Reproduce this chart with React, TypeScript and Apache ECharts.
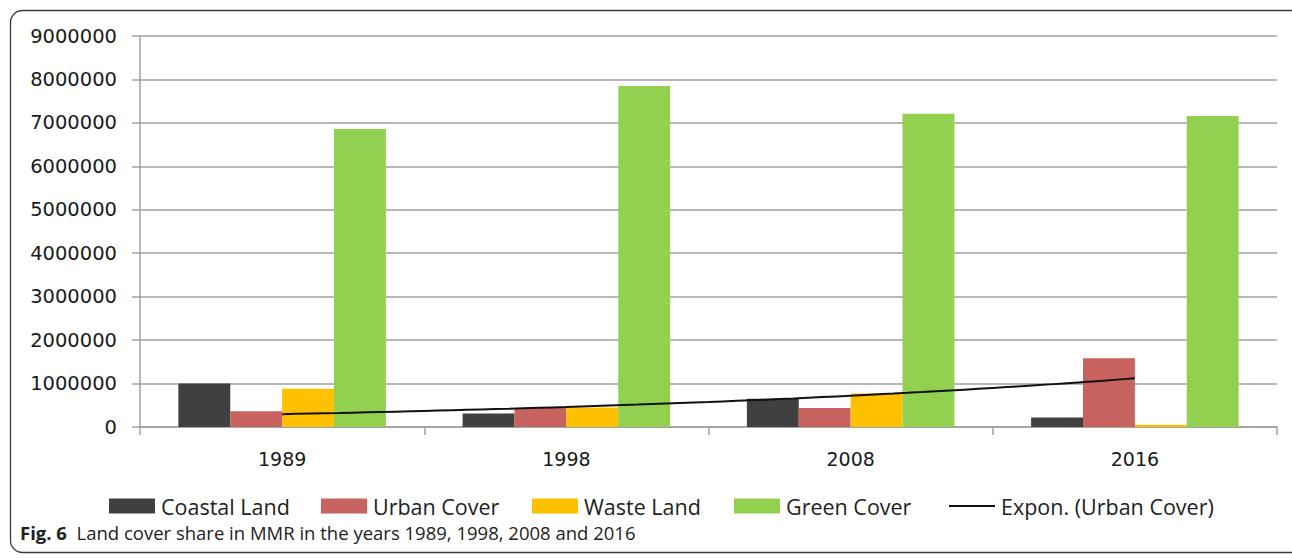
import React, { useEffect, useRef } from "react";
import * as echarts from "echarts";

// Land cover areas per survey year
const years = ["1989", "1998", "2008", "2016"];
const coastalLand = [1000000, 310000, 650000, 220000];
const urbanCover = [360000, 440000, 440000, 1580000];
const wasteLand = [880000, 450000, 770000, 50000];
const greenCover = [6860000, 7850000, 7210000, 7160000];

const seriesNames = ["Coastal Land", "Urban Cover", "Waste Land", "Green Cover"];
const trendName = "Expon. (Urban Cover)";
const yTickStep = 1000000;
const yMax = 9000000;

const colors = {
  coastal: "#404040",
  urban: "#C8625F",
  waste: "#FFC000",
  green: "#92D050",
};

// Exponential trend y = a·e^(b·x) fitted to urban cover by least squares on ln(y)
function exponentialTrend(values: number[]) {
  const n = values.length;
  const xs = values.map((_, i) => i + 1);
  const ls = values.map((v) => Math.log(v));
  const mx = xs.reduce((s, v) => s + v, 0) / n;
  const ml = ls.reduce((s, v) => s + v, 0) / n;
  let sxy = 0;
  let sxx = 0;
  for (let i = 0; i < n; i++) {
    sxy += (xs[i] - mx) * (ls[i] - ml);
    sxx += (xs[i] - mx) * (xs[i] - mx);
  }
  const b = sxy / sxx;
  const a = Math.exp(ml - b * mx);
  const pts: [number, number][] = [];
  const steps = 60;
  for (let k = 0; k <= steps; k++) {
    const x = 1 + ((n - 1) * k) / steps;
    pts.push([x, a * Math.exp(b * x)]);
  }
  return pts;
}

const axisFont = "'DejaVu Sans', Verdana, sans-serif";
const legendFont = "'Open Sans', 'Noto Sans', sans-serif";

export default function App() {
  const ref = useRef<HTMLDivElement>(null);

  useEffect(() => {
    if (!ref.current) return;
    const chart = echarts.init(ref.current, undefined, { renderer: "svg" });

    const legendBase = {
      top: 495,
      padding: 0,
      orient: "horizontal" as const,
      itemWidth: 46,
      itemHeight: 15,
      icon: "rect",
      textStyle: {
        fontFamily: legendFont,
        fontSize: 21.5,
        color: "#222",
        lineHeight: 20,
        padding: [0, 0, 2, 1],
      },
    };

    const barBase = {
      type: "bar" as const,
      barGap: "0%",
      barCategoryGap: "27%",
      xAxisIndex: 0,
      yAxisIndex: 0,
    };

    chart.setOption({
      animation: false,
      backgroundColor: "#ffffff",
      grid: { left: 140, right: 15, top: 36, bottom: 132, containLabel: false },
      xAxis: [
        {
          type: "category",
          data: years,
          boundaryGap: true,
          axisLine: { show: true, lineStyle: { color: "#a0a0a0", width: 1.5 } },
          axisTick: { show: true, length: 8, lineStyle: { color: "#a0a0a0", width: 1.5 } },
          axisLabel: {
            margin: 22,
            fontFamily: axisFont,
            fontSize: 19,
            color: "#1a1a1a",
          },
          splitLine: { show: false },
        },
        {
          type: "value",
          min: 0.5,
          max: 4.5,
          show: false,
        },
      ],
      yAxis: {
        type: "value",
        min: 0,
        max: yMax,
        interval: yTickStep,
        axisLine: { show: true, lineStyle: { color: "#a0a0a0", width: 1.5 } },
        axisTick: { show: true, length: 8, lineStyle: { color: "#a0a0a0", width: 1.5 } },
        axisLabel: {
          margin: 23,
          fontFamily: axisFont,
          fontSize: 19.5,
          color: "#1a1a1a",
          formatter: (v: number) => String(Math.round(v)),
        },
        splitLine: { show: true, lineStyle: { color: "#a0a0a0", width: 1.5 } },
      },
      legend: [
        { ...legendBase, left: 109, data: [seriesNames[0]] },
        { ...legendBase, left: 321, data: [seriesNames[1]] },
        { ...legendBase, left: 532, data: [seriesNames[2]] },
        { ...legendBase, left: 734, data: [seriesNames[3]] },
        {
          ...legendBase,
          left: 949,
          itemHeight: 2,
          data: [{ name: trendName, icon: "rect" }],
        },
      ],
      graphic: [
        {
          type: "rect",
          shape: { x: 10.5, y: 10.5, width: 1300, height: 542, r: 12 },
          style: { fill: "none", stroke: "#3a3a3a", lineWidth: 1.3 },
          silent: true,
          z: -1,
        },
        {
          type: "text",
          left: 20,
          top: 523,
          style: {
            text: "{b|Fig. 6}  Land cover share in MMR in the years 1989, 1998, 2008 and 2016",
            fontFamily: legendFont,
            fontSize: 18.5,
            fill: "#222",
            rich: {
              b: { fontFamily: legendFont, fontSize: 18.5, fontWeight: "bold", fill: "#222" },
            },
          },
        },
      ],
      series: [
        { ...barBase, name: seriesNames[0], data: coastalLand, itemStyle: { color: colors.coastal } },
        { ...barBase, name: seriesNames[1], data: urbanCover, itemStyle: { color: colors.urban } },
        { ...barBase, name: seriesNames[2], data: wasteLand, itemStyle: { color: colors.waste } },
        { ...barBase, name: seriesNames[3], data: greenCover, itemStyle: { color: colors.green } },
        {
          type: "line",
          name: trendName,
          xAxisIndex: 1,
          yAxisIndex: 0,
          data: exponentialTrend(urbanCover),
          showSymbol: false,
          symbol: "none",
          lineStyle: { color: "#111", width: 2 },
          itemStyle: { color: "#111" },
          z: 5,
        },
      ],
    });

    return () => chart.dispose();
  }, []);

  return (
    <div
      ref={ref}
      style={{ position: "fixed", left: 0, top: 0, width: 1292, height: 559, background: "#fff" }}
    />
  );
}
